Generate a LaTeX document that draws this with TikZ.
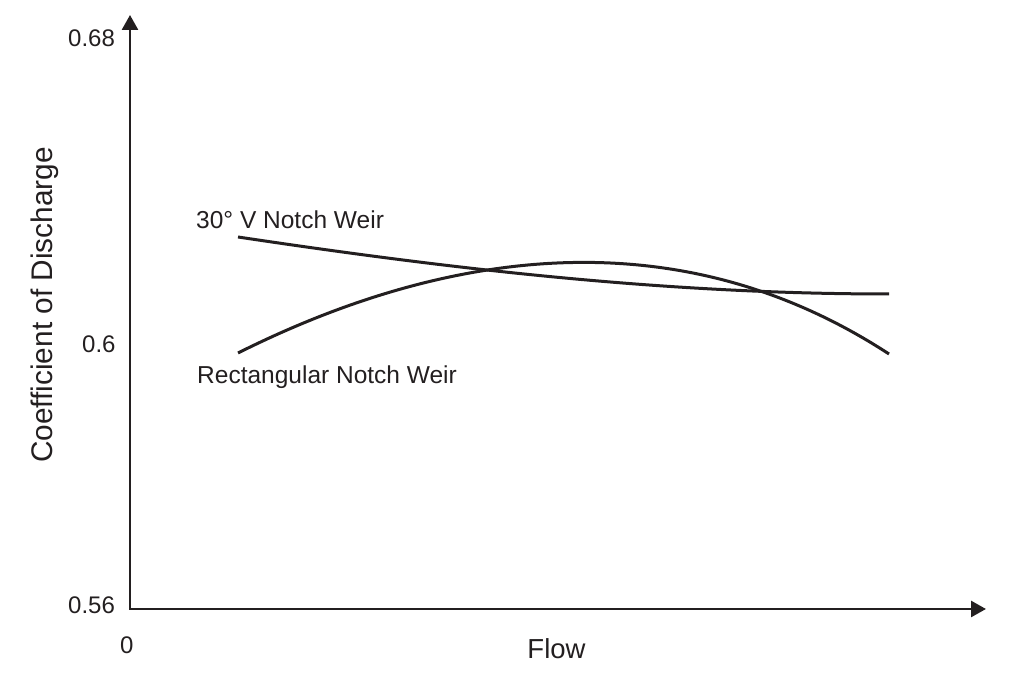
\documentclass[tikz,border=0pt]{standalone}
\usepackage{fontspec}
\setmainfont{Liberation Sans}
\usetikzlibrary{arrows.meta}
\definecolor{ink}{RGB}{35,31,32}
\begin{document}
\begin{tikzpicture}[x=1pt,y=1pt,
  axisline/.style={draw=ink,line width=2.7pt,line join=miter,
    {Triangle[length=15pt,width=16pt]}-{Triangle[length=15pt,width=16pt]}},
  curveline/.style={draw=ink,line width=3pt},
  ticklab/.style={text=ink,inner sep=0pt,font=\fontsize{24}{28}\selectfont,anchor=base west},
  curvelab/.style={text=ink,inner sep=0pt,font=\fontsize{24.5}{29}\selectfont,anchor=base west},
  axislab/.style={text=ink,inner sep=0pt,anchor=base}]
\useasboundingbox (0,0) rectangle (1012,676);
\coordinate (ytip) at (130,661);
\coordinate (origin) at (130,67);
\coordinate (xtip) at (986,67);
\draw[axisline] (ytip) -- (origin) -- (xtip);
% curves
\coordinate (r0) at (238,323);
\coordinate (r1) at (889,322);
\coordinate (v0) at (238,439);
\coordinate (v1) at (889,382);
\draw[curveline] (r0) .. controls (448,428) and (679,459) .. (r1);
\draw[curveline] (v0) .. controls (458,406) and (669,382) .. (v1);
% labels
\node[ticklab] (t68) at (68,629) {0.68};
\node[ticklab] (t60) at (82,323) {0.6};
\node[ticklab] (t56) at (68,62) {0.56};
\node[ticklab] (t0) at (120,22) {0};
\node[curvelab] (lv) at (196,447) {30° V Notch Weir};
\node[curvelab] (lr) at (197,292) {Rectangular Notch Weir};
\node[axislab,font=\fontsize{27.5}{32}\selectfont] (xl) at (556.5,17) {Flow};
\node[axislab,rotate=90,font=\fontsize{29.8}{35}\selectfont] (yl) at (53,371) {Coefficient of Discharge};
\end{tikzpicture}
\end{document}
